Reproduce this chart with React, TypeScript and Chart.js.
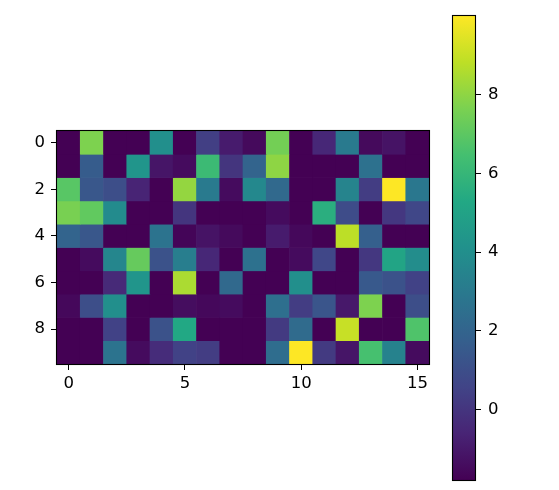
import React, { useEffect, useRef } from "react";
import { Chart, registerables } from "chart.js";

Chart.register(...registerables);

// ---- data ----
const columns = [0, 1, 2, 3, 4, 5, 6, 7, 8, 9, 10, 11, 12, 13, 14, 15];
const rowIndex = [0, 1, 2, 3, 4, 5, 6, 7, 8, 9];

const row0 = [-1.79, 7.7, -1.79, -1.79, 4.0, -1.79, 0.4, -0.9, -1.5, 7.5, -1.79, -0.5, 3.0, -1.5, -1.2, -1.79];
const row1 = [-1.79, 1.6, -1.79, 4.3, -1.1, -1.45, 6.2, 0.0, 2.0, 8.0, -1.79, -1.79, -1.79, 2.6, -1.79, -1.79];
const row2 = [6.9, 1.4, 1.0, -0.6, -1.79, 8.1, 3.0, -1.45, 3.7, 2.2, -1.79, -1.79, 3.5, 0.3, 10.0, 2.9];
const row3 = [7.6, 7.1, 3.8, -1.79, -1.79, 0.0, -1.79, -1.79, -1.79, -1.45, -1.79, 5.6, 0.9, -1.79, 0.1, 0.7];
const row4 = [2.0, 1.4, -1.79, -1.79, 2.7, -1.65, -1.2, -1.5, -1.79, -0.9, -1.55, -1.79, 8.8, 1.8, -1.79, -1.79];
const row5 = [-1.79, -1.45, 3.6, 7.2, 1.2, 3.2, -0.5, -1.79, 2.6, -1.79, -1.45, 0.7, -1.79, 0.1, 5.1, 3.9];
const row6 = [-1.79, -1.79, -0.4, 4.3, -1.79, 8.5, -1.79, 2.2, -1.79, -1.79, 4.0, -1.79, -1.79, 1.5, 1.2, 0.5];
const row7 = [-1.55, 1.0, 4.0, -1.79, -1.79, -1.4, -1.55, -1.45, -1.79, 2.5, 0.3, 1.3, -1.0, 7.7, -1.79, 1.0];
const row8 = [-1.79, -1.79, 0.5, -1.79, 1.2, 5.3, -1.79, -1.79, -1.79, 0.2, 2.3, -1.79, 9.0, -1.79, -1.79, 6.7];
const row9 = [-1.79, -1.79, 2.7, -1.45, -0.3, 0.5, 0.3, -1.79, -1.79, 2.4, 10.0, 0.2, -1.1, 6.5, 3.4, -1.45];

const grid = [row0, row1, row2, row3, row4, row5, row6, row7, row8, row9];

const xTicks = [0, 5, 10, 15];
const yTicks = [0, 2, 4, 6, 8];
const colorbarTicks = [0, 2, 4, 6, 8];
const vmin = -1.79;
const vmax = 10.0;

// ---- viridis colormap ----
const VIRIDIS = [
  "#440154", "#482475", "#414487", "#355f8d", "#2a788e", "#21918c",
  "#22a884", "#44bf70", "#7ad151", "#bddf26", "#fde725",
];

function hexToRgb(h: string) {
  return [parseInt(h.slice(1, 3), 16), parseInt(h.slice(3, 5), 16), parseInt(h.slice(5, 7), 16)];
}

function viridis(v: number) {
  let t = (v - vmin) / (vmax - vmin);
  t = Math.max(0, Math.min(1, t));
  const pos = t * (VIRIDIS.length - 1);
  const i = Math.min(Math.floor(pos), VIRIDIS.length - 2);
  const f = pos - i;
  const a = hexToRgb(VIRIDIS[i]);
  const b = hexToRgb(VIRIDIS[i + 1]);
  const c = a.map((x, k) => Math.round(x + (b[k] - x) * f));
  return `rgb(${c[0]},${c[1]},${c[2]})`;
}

const FONT = { family: "'DejaVu Sans'", size: 16.5 };

const framePlugin = {
  id: "frame",
  afterDraw(chart: any) {
    const { ctx, chartArea } = chart;
    const { left, top, right, bottom } = chartArea;
    ctx.save();
    ctx.strokeStyle = "#000";
    ctx.lineWidth = 1.1;
    ctx.strokeRect(left - 0.5, top - 0.5, right - left + 1, bottom - top + 1);
    ctx.restore();
  },
};

export default function App() {
  const heatRef = useRef<HTMLCanvasElement>(null);
  const cbRef = useRef<HTMLCanvasElement>(null);

  useEffect(() => {
    const heat = new Chart(heatRef.current!, {
      type: "bar",
      data: {
        datasets: grid.map((vals, r) => ({
          data: vals.map((v, c) => ({ x: columns[c], y: [rowIndex[r] - 0.5, rowIndex[r] + 0.5] })),
          backgroundColor: vals.map((v) => viridis(v)),
          borderWidth: 0,
          grouped: false,
          barPercentage: 1,
          categoryPercentage: 1,
        })) as any,
      },
      options: {
        animation: false,
        responsive: false,
        events: [],
        layout: { padding: { top: 131, right: 11, left: 0, bottom: 0 } },
        plugins: { legend: { display: false }, tooltip: { enabled: false } },
        scales: {
          x: {
            type: "linear",
            min: -0.5,
            max: 15.5,
            offset: false,
            afterBuildTicks: (s: any) => {
              s.ticks = xTicks.map((v) => ({ value: v }));
            },
            afterFit: (s: any) => {
              s.height = 36;
              s.paddingLeft = 0;
              s.paddingRight = 0;
            },
            grid: { offset: false, drawOnChartArea: false, drawTicks: true, tickLength: 6, color: "#000" },
            border: { display: false },
            ticks: { font: FONT, color: "#000", padding: 4, maxRotation: 0, autoSkip: false },
          },
          y: {
            type: "linear",
            min: -0.5,
            max: 9.5,
            reverse: true,
            afterBuildTicks: (s: any) => {
              s.ticks = yTicks.map((v) => ({ value: v }));
            },
            afterFit: (s: any) => {
              s.width = 57;
              s.paddingTop = 0;
              s.paddingBottom = 0;
            },
            grid: { offset: false, drawOnChartArea: false, drawTicks: true, tickLength: 6, color: "#000" },
            border: { display: false },
            ticks: { font: FONT, color: "#000", padding: 6, autoSkip: false },
          },
        },
      } as any,
      plugins: [framePlugin],
    });

    const cb = new Chart(cbRef.current!, {
      type: "bar",
      data: {
        labels: [""],
        datasets: [
          {
            data: [[vmin, vmax]],
            borderWidth: 0,
            barPercentage: 1,
            categoryPercentage: 1,
            backgroundColor: (ctx: any) => {
              const chart = ctx.chart;
              if (!chart.chartArea || !chart.scales.y) return VIRIDIS[5];
              const ys = chart.scales.y;
              const g = chart.ctx.createLinearGradient(0, ys.getPixelForValue(vmin), 0, ys.getPixelForValue(vmax));
              VIRIDIS.forEach((c, i) => g.addColorStop(i / (VIRIDIS.length - 1), c));
              return g;
            },
          },
        ] as any,
      },
      options: {
        animation: false,
        responsive: false,
        events: [],
        layout: { padding: { left: 13, top: 16, bottom: 10, right: 0 } },
        plugins: { legend: { display: false }, tooltip: { enabled: false } },
        scales: {
          x: { display: false },
          y: {
            type: "linear",
            position: "right",
            min: vmin,
            max: vmax,
            afterBuildTicks: (s: any) => {
              s.ticks = colorbarTicks.map((v) => ({ value: v }));
            },
            afterFit: (s: any) => {
              s.width = 84;
              s.paddingTop = 0;
              s.paddingBottom = 0;
            },
            grid: { offset: false, drawOnChartArea: false, drawTicks: true, tickLength: 6, color: "#000" },
            border: { display: false },
            ticks: { font: FONT, color: "#000", padding: 7, autoSkip: false },
          },
        },
      } as any,
      plugins: [framePlugin],
    });

    return () => {
      heat.destroy();
      cb.destroy();
    };
  }, []);

  return (
    <div>
      <canvas
        ref={heatRef}
        width={440}
        height={400}
        style={{ position: "absolute", left: 0, top: 0, width: 440, height: 400, display: "block" }}
      />
      <canvas
        ref={cbRef}
        width={119}
        height={490}
        style={{ position: "absolute", left: 440, top: 0, width: 119, height: 490, display: "block" }}
      />
    </div>
  );
}
